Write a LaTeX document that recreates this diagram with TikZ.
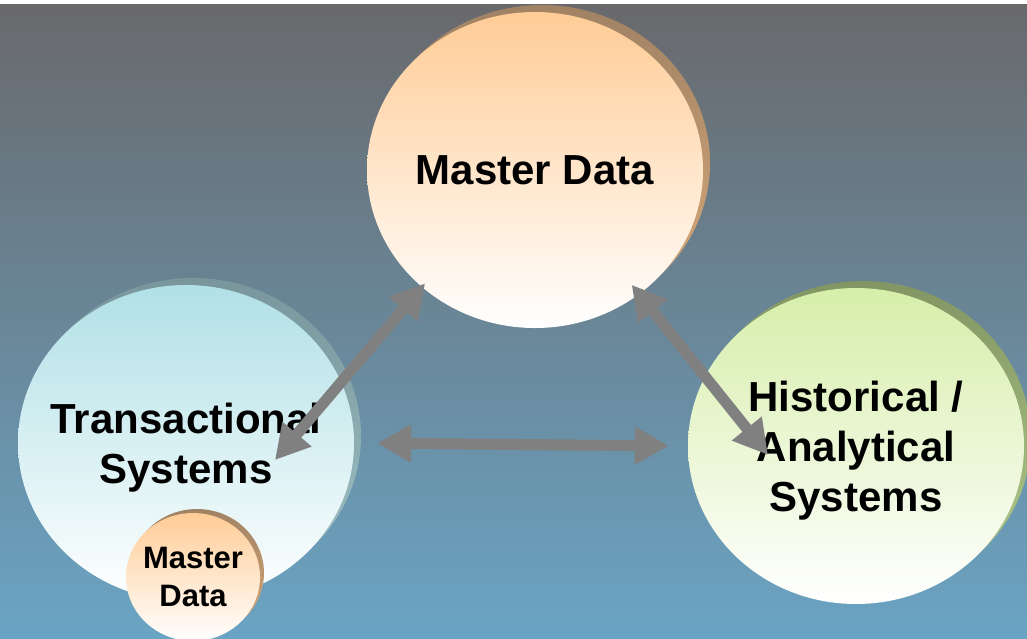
\documentclass[tikz,border=0pt]{standalone}
\usepackage{fontspec}
\setmainfont{Liberation Sans}
\usetikzlibrary{shapes.geometric,arrows.meta,shadows}
\definecolor{bgtop}{RGB}{105,105,108}
\definecolor{bgmid}{RGB}{104,150,176}
\definecolor{bgbot}{RGB}{106,164,196}
\definecolor{mdtop}{RGB}{255,204,150}
\definecolor{mdshadowtop}{RGB}{160,130,100}
\definecolor{mdshadowbot}{RGB}{220,172,122}
\definecolor{tstop}{RGB}{176,224,230}
\definecolor{tsshadowtop}{RGB}{120,150,155}
\definecolor{tsshadowbot}{RGB}{160,195,200}
\definecolor{hstop}{RGB}{214,238,170}
\definecolor{hsshadowtop}{RGB}{130,150,100}
\definecolor{hsshadowbot}{RGB}{180,205,140}
\definecolor{arrowgray}{RGB}{128,128,128}
\begin{document}
\begin{tikzpicture}[x=1pt, y=1pt,
        every node/.style={inner sep=0pt, shape=ellipse, align=center}
]
\tikzstyle{block}=[minimum width=336pt, minimum height=316pt, inner xsep=-60pt, text depth=0pt, bottom color=white, font=\fontsize{42}{50}\selectfont\bfseries]
\tikzstyle{smallblock}=[minimum width=134pt, minimum height=128pt, inner xsep=-25pt, bottom color=white, font=\fontsize{31}{38}\selectfont\bfseries]
\tikzstyle{link}=[draw=arrowgray, line width=11pt, {Triangle[length=34pt,width=36pt]}-{Triangle[length=34pt,width=36pt]}]
    \useasboundingbox (0,0) rectangle (1027,-638);
    \fill[white] (0,0) rectangle (1027,-4);
    \shade[top color=bgtop, middle color=bgmid, bottom color=bgbot] (0,-4) rectangle (1027,-638);

    \node[block, top color=mdtop, general shadow={shadow xshift=7pt, shadow yshift=7pt, top color=mdshadowtop, bottom color=mdshadowbot}] (md) at (535,-170) {Master Data};
    \node[block, top color=tstop, general shadow={shadow xshift=7pt, shadow yshift=7pt, top color=tsshadowtop, bottom color=tsshadowbot}] (ts) at (186,-443) {Transactional\\Systems};
    \node[block, top color=hstop, general shadow={shadow xshift=7pt, shadow yshift=7pt, top color=hsshadowtop, bottom color=hsshadowbot}] (hs) at (856,-446) {Historical /\\Analytical\\Systems};
    \node[smallblock, top color=mdtop, general shadow={shadow xshift=4pt, shadow yshift=4pt, top color=mdshadowtop, bottom color=mdshadowbot}] (mdsmall) at (193,-577) {Master\\Data};

    \coordinate (tsin) at (275,-460);
    \coordinate (hsin) at (768,-455);
    \draw[link, shorten <=-5pt] (md.226) -- (tsin);
    \draw[link, shorten <=23pt, shorten >=19pt] (ts.east) -- (hs.west);
    \draw[link, shorten <=-12pt] (md.310) -- (hsin);

\end{tikzpicture}
\end{document}
